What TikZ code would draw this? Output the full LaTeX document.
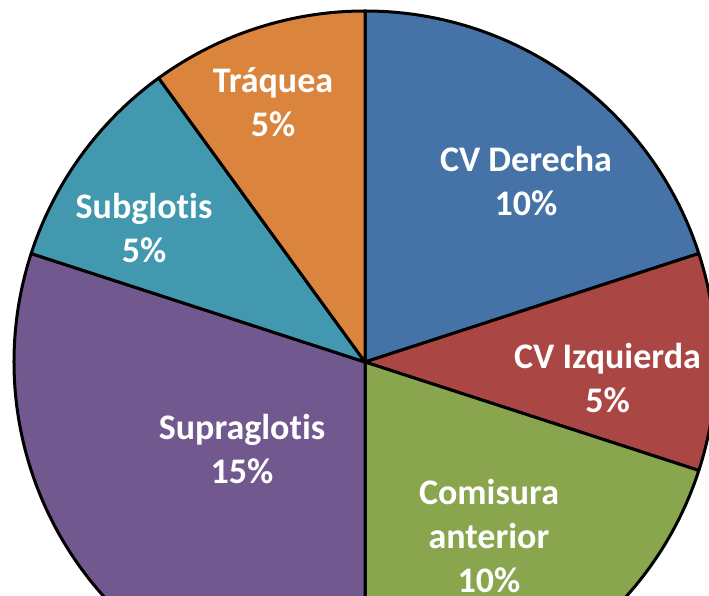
\documentclass[tikz,border=0pt]{standalone}
\usepackage{fontspec}
\setmainfont{Carlito}[Ligatures=NoCommon]

\definecolor{cvder}{HTML}{4572A7}
\definecolor{cvizq}{HTML}{AA4643}
\definecolor{comis}{HTML}{89A54E}
\definecolor{supra}{HTML}{71588F}
\definecolor{subgl}{HTML}{4198AF}
\definecolor{traq}{HTML}{DB843D}

\tikzset{
  slice/.style={draw=black, line width=3bp, line join=round},
  lbl/.style={text=white, align=center, inner sep=0pt,
    font=\fontsize{36bp}{44bp}\selectfont\bfseries}
}

\begin{document}
\begin{tikzpicture}[x=1bp, y=1bp]
    \useasboundingbox (-365,-234) rectangle (344,362);

    %Slices
    \foreach \a/\b/\c in {18/90/cvder, -18/18/cvizq, -90/-18/comis,
                          162/270/supra, 126/162/subgl, 90/126/traq}
      \filldraw[slice, fill=\c] (0,0) -- (\a:351)
        arc[start angle=\a, end angle=\b, radius=351] -- cycle;

    %Labels
    \node[lbl] (der)   at ( 161, 181)  {CV Derecha\\10\%};
    \node[lbl] (izq)   at ( 242.5,-16) {CV Izquierda\\5\%};
    \node[lbl] (comi)  at ( 124,-174.5) {Comisura\\anterior\\10\%};
    \node[lbl] (supg)  at (-123,-87)   {Supraglotis\\15\%};
    \node[lbl] (subg)  at (-221, 134)  {Subglotis\\5\%};
    \node[lbl] (traqu) at ( -92, 260)  {Tráquea\\5\%};
  \end{tikzpicture}
\end{document}
